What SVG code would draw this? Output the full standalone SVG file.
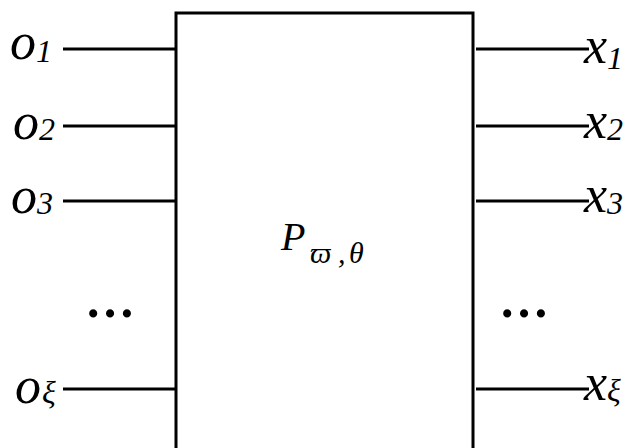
<svg xmlns="http://www.w3.org/2000/svg" width="633" height="448" viewBox="0 0 633 448">
<style>
.t{font-family:"Liberation Serif","Times New Roman",serif;font-style:italic;fill:#000}
.m{font-size:52px}
.s{font-size:32px}
.d{font-family:"Liberation Serif","Times New Roman",serif;font-size:50px;font-weight:bold;fill:#000;text-anchor:middle}
.w{stroke:#000;stroke-width:3;fill:none}
</style>
<rect width="633" height="448" fill="#fff"/>
<g id="block">
<rect x="176" y="13" width="297" height="450" fill="#fff" stroke="#000" stroke-width="3"/>
<text class="t" x="281" y="250" font-size="40">P</text>
<text class="t" x="310" y="263" font-size="30">ϖ</text>
<text class="t" x="338" y="263" font-size="30" font-style="normal">,</text>
<text class="t" x="349" y="263" font-size="30">θ</text>
</g>
<g id="connectors">
<line class="w" x1="63" y1="49" x2="176" y2="49"/>
<line class="w" x1="63" y1="126" x2="176" y2="126"/>
<line class="w" x1="63" y1="201" x2="176" y2="201"/>
<line class="w" x1="63" y1="389" x2="176" y2="389"/>
<line class="w" x1="476" y1="49" x2="589" y2="49"/>
<line class="w" x1="476" y1="126" x2="589" y2="126"/>
<line class="w" x1="476" y1="201" x2="589" y2="201"/>
<line class="w" x1="476" y1="389" x2="589" y2="389"/>
</g>
<g id="in1"><text class="t" x="10" y="59"><tspan class="m">o</tspan><tspan class="s" dy="3">1</tspan></text></g>
<g id="in2"><text class="t" x="13" y="139"><tspan class="m">o</tspan><tspan class="s" dy="1">2</tspan></text></g>
<g id="in3"><text class="t" x="11" y="213"><tspan class="m">o</tspan><tspan class="s" dy="1">3</tspan></text></g>
<g id="inDots"><text class="d" x="110" y="317">…</text></g>
<g id="inXi"><text class="t" x="15" y="403"><tspan class="m">o</tspan><tspan class="s" dx="1">ξ</tspan></text></g>
<g id="out1"><text class="t" x="584" y="63"><tspan class="m">x</tspan><tspan class="s" dy="6">1</tspan></text></g>
<g id="out2"><text class="t" x="584" y="138"><tspan class="m">x</tspan><tspan class="s" dy="2">2</tspan></text></g>
<g id="out3"><text class="t" x="584" y="212"><tspan class="m">x</tspan><tspan class="s" dy="2">3</tspan></text></g>
<g id="outDots"><text class="d" x="524" y="317">…</text></g>
<g id="outXi"><text class="t" x="584" y="400"><tspan class="m">x</tspan><tspan class="s" dy="1">ξ</tspan></text></g>
</svg>
